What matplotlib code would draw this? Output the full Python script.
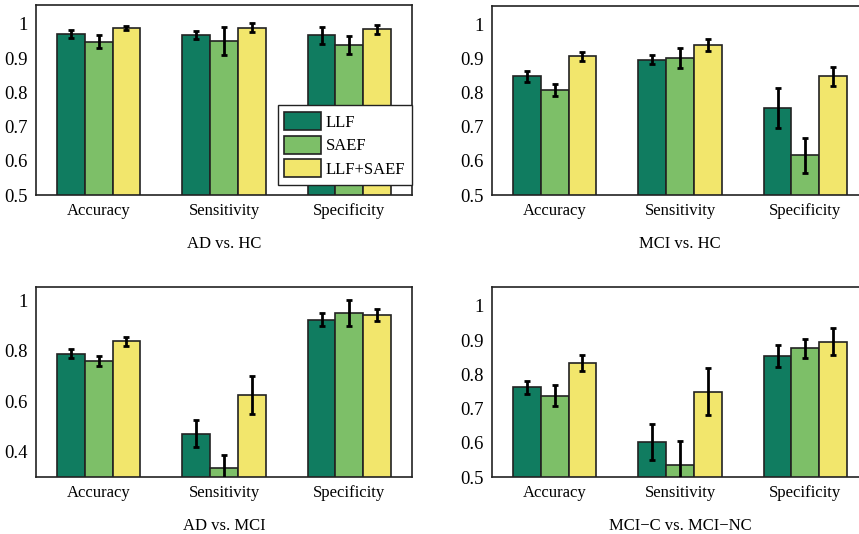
import numpy as np
import matplotlib
matplotlib.use("Agg")
import matplotlib.pyplot as plt

plt.rcParams['font.family'] = ['Liberation Serif', 'DejaVu Serif']

metrics = ['Accuracy', 'Sensitivity', 'Specificity']
methods = ['LLF', 'SAEF', 'LLF+SAEF']
colors = ['#107c60', '#7dbf68', '#f2e66c']

# values per panel: rows = method, cols = metric
ad_hc = [[0.970, 0.967, 0.966], [0.948, 0.950, 0.938], [0.988, 0.989, 0.984]]
ad_hc_err = [[0.012, 0.012, 0.024], [0.019, 0.040, 0.025], [0.006, 0.014, 0.013]]

mci_hc = [[0.848, 0.897, 0.756], [0.809, 0.902, 0.616], [0.907, 0.940, 0.848]]
mci_hc_err = [[0.016, 0.013, 0.058], [0.018, 0.029, 0.051], [0.013, 0.017, 0.029]]

ad_mci = [[0.788, 0.472, 0.923], [0.759, 0.336, 0.950], [0.837, 0.623, 0.942]]
ad_mci_err = [[0.018, 0.053, 0.025], [0.019, 0.050, 0.052], [0.018, 0.075, 0.024]]

mcic_mcinc = [[0.762, 0.602, 0.854], [0.738, 0.534, 0.876], [0.833, 0.749, 0.895]]
mcic_mcinc_err = [[0.019, 0.053, 0.033], [0.032, 0.070, 0.028], [0.022, 0.068, 0.040]]

panels = [
    ('AD vs. HC', ad_hc, ad_hc_err, (0.5, 1.055), [0.5, 0.6, 0.7, 0.8, 0.9, 1.0],
     ['0.5', '0.6', '0.7', '0.8', '0.9', '1'], [36, 5, 412, 195]),
    ('MCI vs. HC', mci_hc, mci_hc_err, (0.5, 1.055), [0.5, 0.6, 0.7, 0.8, 0.9, 1.0],
     ['0.5', '0.6', '0.7', '0.8', '0.9', '1'], [492, 6, 868, 195]),
    ('AD vs. MCI', ad_mci, ad_mci_err, (0.3, 1.052), [0.4, 0.6, 0.8, 1.0],
     ['0.4', '0.6', '0.8', '1'], [36, 287, 412, 477]),
    ('MCI\u2212C vs. MCI\u2212NC', mcic_mcinc, mcic_mcinc_err, (0.5, 1.055), [0.5, 0.6, 0.7, 0.8, 0.9, 1.0],
     ['0.5', '0.6', '0.7', '0.8', '0.9', '1'], [492, 287, 868, 477]),
]

W, H = 859, 534
fig = plt.figure(figsize=(W / 100, H / 100), dpi=100)

x = np.arange(1, len(metrics) + 1)
bw = 0.222

for i, (title, vals, errs, ylim, yt, ytl, box) in enumerate(panels):
    x0, y0, x1, y1 = box
    ax = fig.add_axes([x0 / W, 1 - y1 / H, (x1 - x0) / W, (y1 - y0) / H])
    for k in range(len(methods)):
        ax.bar(x + (k - 1) * bw, vals[k], bw, color=colors[k], edgecolor='#222222',
               linewidth=1.2, label=methods[k], zorder=2)
        ax.errorbar(x + (k - 1) * bw, vals[k], yerr=errs[k], fmt='none', ecolor='black',
                    elinewidth=2, capsize=2.5, capthick=2, zorder=3)
    ax.set_xlim(0.5, 3.5)
    ax.set_ylim(*ylim)
    ax.set_yticks(yt)
    ax.set_yticklabels(ytl, fontsize=13.5)
    ax.set_xticks(x)
    ax.set_xticklabels(metrics, fontsize=12)
    ax.tick_params(length=0, pad=6)
    ax.set_xlabel(title, fontsize=12, labelpad=12)
    for s in ax.spines.values():
        s.set_linewidth(1.2)
        s.set_color('#222222')
    if i == 0:
        ax.legend(loc='lower right', bbox_to_anchor=(1.0, 0.055), fontsize=12,
                  frameon=True, fancybox=False, edgecolor='#222222', framealpha=1,
                  handlelength=2.2, handleheight=1.3, borderpad=0.4, labelspacing=0.3,
                  handletextpad=0.3, borderaxespad=0.0)

fig.savefig('out.png', dpi=100)
